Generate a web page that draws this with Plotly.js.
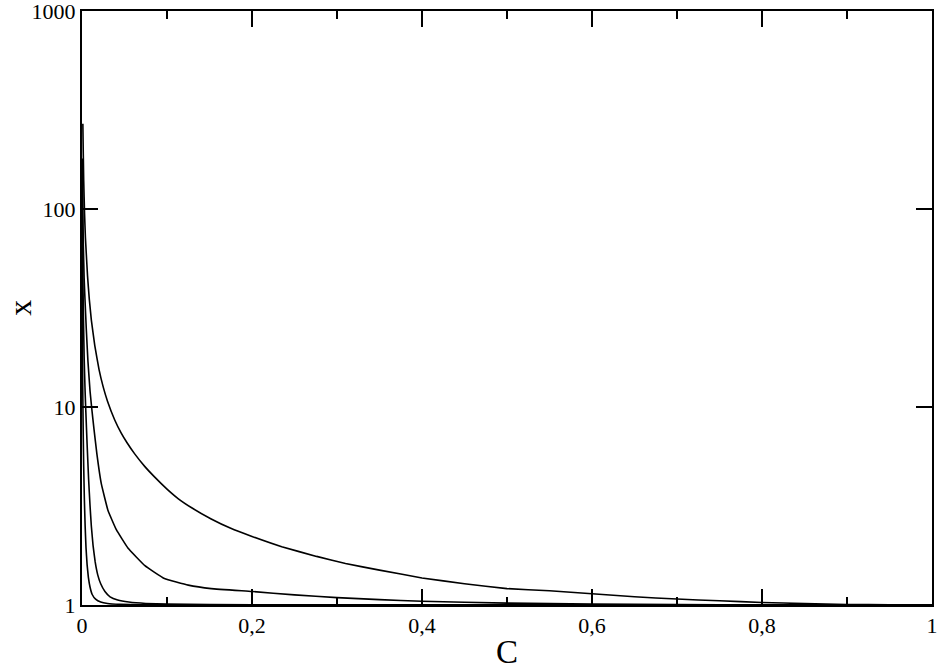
<!DOCTYPE html>
<html>
<head>
<meta charset="utf-8">
<script src="https://cdn.plot.ly/plotly-3.0.1.min.js"></script>
<style>
html,body{margin:0;padding:0;background:#fff;}
#chart{width:939px;height:670px;}
</style>
</head>
<body>
<div id="chart"></div>
<script>
// Curve 1 (top)
const c1 = [0.001, 0.0015, 0.002, 0.003, 0.004, 0.005, 0.0065, 0.0086, 0.011, 0.015, 0.02, 0.025, 0.03, 0.0385, 0.046, 0.053, 0.062, 0.074, 0.085, 0.1, 0.113, 0.13, 0.152, 0.175, 0.2, 0.235, 0.276, 0.31, 0.35, 0.4, 0.45, 0.5, 0.55, 0.6, 0.65, 0.7, 0.75, 0.8, 0.85, 0.9, 0.95, 1.0];
const x1 = [270, 190, 140, 95, 72, 60, 46, 35, 27.5, 20.5, 15.5, 12.6, 10.7, 8.6, 7.4, 6.6, 5.8, 5.0, 4.45, 3.85, 3.45, 3.08, 2.72, 2.44, 2.22, 1.97, 1.76, 1.62, 1.5, 1.37, 1.28, 1.21, 1.18, 1.14, 1.1, 1.072, 1.05, 1.03, 1.016, 1.006, 1.002, 1.0];
// Curve 2
const c2 = [0.0005, 0.001, 0.0016, 0.0025, 0.0035, 0.005, 0.007, 0.0095, 0.0115, 0.014, 0.0175, 0.0227, 0.0306, 0.0404, 0.054, 0.074, 0.097, 0.125, 0.152, 0.2, 0.25, 0.3, 0.35, 0.4, 0.5, 0.6, 0.7, 0.8, 0.9, 1.0];
const x2 = [180, 100, 65, 45, 35, 25, 17, 12, 9.8, 7.8, 5.8, 4.1, 3.0, 2.4, 1.94, 1.58, 1.36, 1.26, 1.21, 1.17, 1.125, 1.09, 1.065, 1.045, 1.022, 1.01, 1.005, 1.002, 1.001, 1.0];
// Curve 3
const c3 = [0.0003, 0.0006, 0.001, 0.0016, 0.0025, 0.0035, 0.0045, 0.006, 0.0078, 0.0094, 0.011, 0.013, 0.0155, 0.0185, 0.022, 0.027, 0.033, 0.042, 0.055, 0.075, 0.1, 0.15, 0.25, 0.5, 1.0];
const x3 = [150, 80, 48, 30, 18, 12.5, 9.5, 6.5, 4.3, 3.2, 2.5, 2.0, 1.65, 1.42, 1.28, 1.17, 1.1, 1.06, 1.035, 1.018, 1.01, 1.005, 1.002, 1.001, 1.0];
// Curve 4 (lowest)
const c4 = [0.0001, 0.0002, 0.0004, 0.0007, 0.001, 0.0015, 0.002, 0.0028, 0.0037, 0.0047, 0.006, 0.0075, 0.0095, 0.012, 0.016, 0.022, 0.03, 0.045, 0.07, 0.1, 0.2, 1.0];
const x4 = [120, 60, 30, 16, 11, 7, 5, 3.4, 2.5, 1.95, 1.6, 1.38, 1.23, 1.13, 1.07, 1.035, 1.018, 1.008, 1.003, 1.001, 1.0005, 1.0];

const xTickVals = [0, 0.2, 0.4, 0.6, 0.8, 1];
const xTickText = ["0", "0,2", "0,4", "0,6", "0,8", "1"];
const yTickVals = [1, 10, 100, 1000];
const yTickText = ["1", "10", "100", "1000"];
const xTitle = "C";
const yTitle = "x";

const font = "'Liberation Serif', 'Times New Roman', 'DejaVu Serif', serif";
const mk = (c, x) => ({x: c, y: x, type: 'scatter', mode: 'lines', line: {color: '#000', width: 1.6, shape: 'spline', smoothing: 0.3}, hoverinfo: 'skip'});

const data = [mk(c1, x1), mk(c2, x2), mk(c3, x3), mk(c4, x4)];

const layout = {
  width: 939, height: 670,
  margin: {l: 82, r: 7, t: 11, b: 65, pad: 0},
  paper_bgcolor: '#fff', plot_bgcolor: '#fff',
  showlegend: false,
  font: {family: font, color: '#000', size: 22},
  xaxis: {
    range: [0, 1], tickmode: 'array', tickvals: xTickVals, ticktext: xTickText,
    ticks: 'inside', ticklen: 16, tickwidth: 1.5, tickcolor: '#000',
    minor: {dtick: 0.1, ticks: 'inside', ticklen: 8, tickwidth: 1.5, tickcolor: '#000', showgrid: false},
    showline: true, linecolor: '#000', linewidth: 2, mirror: 'allticks',
    showgrid: false, zeroline: false, ticklabeloverflow: 'allow',
    tickfont: {family: font, size: 22, color: '#000'},
    title: {text: xTitle, font: {family: font, size: 33, color: '#000'}, standoff: 6}
  },
  yaxis: {
    type: 'log', range: [0, 3.0005], tickmode: 'array', tickvals: yTickVals, ticktext: yTickText,
    ticks: 'inside', ticklen: 16, tickwidth: 1.5, tickcolor: '#000',
    showline: true, linecolor: '#000', linewidth: 2, mirror: 'allticks',
    showgrid: false, zeroline: false, ticklabeloverflow: 'allow',
    tickfont: {family: font, size: 22, color: '#000'}
  },
  annotations: [{
    text: yTitle, xref: 'paper', yref: 'paper', x: -0.0955, y: 0.5,
    xanchor: 'left', yanchor: 'middle', showarrow: false, textangle: -90,
    borderpad: 0,
    font: {family: font, size: 32, color: '#000'}
  }]
};

Plotly.newPlot('chart', data, layout, {displayModeBar: false, staticPlot: true});
</script>
</body>
</html>
